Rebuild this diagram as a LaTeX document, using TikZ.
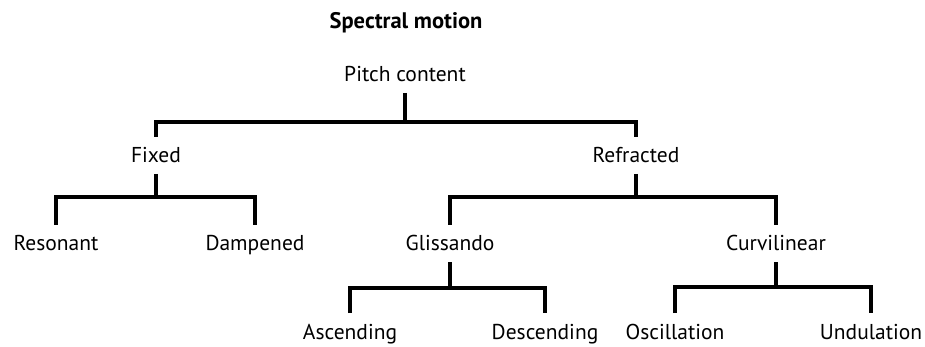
\documentclass[tikz,border=0pt]{standalone}
\usepackage{fontspec}
\setmainfont{PT Sans}
\begin{document}
\begin{tikzpicture}[x=1pt,y=1pt,
    lbl/.style={anchor=base, inner sep=0pt, outer ysep=11pt, text height=15pt, text depth=0pt, font=\fontsize{21.5}{25}\selectfont},
    branch/.style={line width=4pt, line join=miter}]
    \useasboundingbox (0,0) rectangle (925,-347);
    \node [lbl, font=\fontsize{22.5}{26}\selectfont\bfseries] (title) at (406,-29) {Spectral motion};
    \node [lbl] (pc) at (405,-82) {Pitch content};
    \node [lbl] (fix) at (156,-163) {Fixed};
    \node [lbl] (ref) at (636,-163) {Refracted};
    \node [lbl] (res) at (56,-251) {Resonant};
    \node [lbl] (dam) at (255,-251) {Dampened};
    \node [lbl] (gli) at (450,-251) {Glissando};
    \node [lbl] (cur) at (776,-251) {Curvilinear};
    \node [lbl] (asc) at (350,-339) {Ascending};
    \node [lbl] (des) at (545,-339) {Descending};
    \node [lbl] (osc) at (675,-339) {Oscillation};
    \node [lbl] (und) at (871,-339) {Undulation};
    % pitch content
    \draw [branch] (pc.south) -- ++(0,-29) coordinate (j1);
    \draw [branch] (fix.north) |- (j1) -| (ref.north);
    % fixed
    \draw [branch] (fix.south) -- ++(0,-23) coordinate (j2);
    \draw [branch] (res.north) |- (j2) -| (dam.north);
    % refracted
    \draw [branch] (ref.south) -- ++(0,-23) coordinate (j3);
    \draw [branch] (gli.north) |- (j3) -| (cur.north);
    % glissando
    \draw [branch] (gli.south) -- ++(0,-26) coordinate (j4);
    \draw [branch] (asc.north) |- (j4) -| (des.north);
    % curvilinear
    \draw [branch] (cur.south) -- ++(0,-25) coordinate (j5);
    \draw [branch] (osc.north) |- (j5) -| (und.north);
\end{tikzpicture}
\end{document}
